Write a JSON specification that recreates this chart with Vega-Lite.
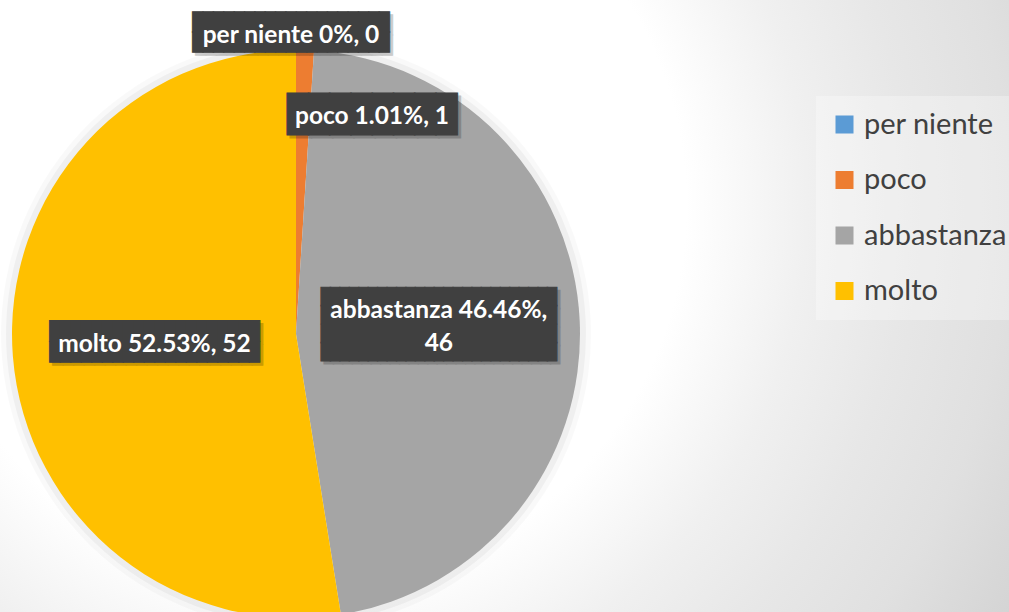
{
  "$schema": "https://vega.github.io/schema/vega-lite/v6.json",
  "width": 1009,
  "height": 612,
  "autosize": {"type": "none"},
  "padding": 0,
  "background": "#e8e8e8",
  "config": {
    "view": {
      "stroke": null,
      "fill": {
        "gradient": "radial",
        "x1": 0.3, "y1": 0.4, "r1": 0,
        "x2": 0.3, "y2": 0.4, "r2": 1,
        "stops": [
          {"offset": 0, "color": "#ffffff"},
          {"offset": 0.38, "color": "#ffffff"},
          {"offset": 0.5, "color": "#f0f0f0"},
          {"offset": 0.6, "color": "#e7e7e7"},
          {"offset": 0.7, "color": "#e0e0e0"},
          {"offset": 0.81, "color": "#d4d4d4"},
          {"offset": 0.92, "color": "#c9c9c9"},
          {"offset": 1, "color": "#c4c4c4"}
        ]
      }
    }
  },
  "data": {
    "values": [
      {"risposta": "per niente", "n": 0, "ord": 1, "etichetta": "per niente 0%, 0"},
      {"risposta": "poco", "n": 1, "ord": 2, "etichetta": "poco 1.01%, 1"},
      {"risposta": "abbastanza", "n": 46, "ord": 3, "etichetta": ["abbastanza 46.46%,", "46"]},
      {"risposta": "molto", "n": 52, "ord": 4, "etichetta": "molto 52.53%, 52"}
    ]
  },
  "encoding": {
    "theta": {"field": "n", "type": "quantitative", "stack": true},
    "order": {"field": "ord", "type": "quantitative"},
    "detail": {"field": "risposta", "type": "nominal"},
    "x": {"datum": 0, "type": "quantitative", "scale": {"domain": [-296, 713], "nice": false, "zero": false}, "axis": null},
    "y": {"datum": 0, "type": "quantitative", "scale": {"domain": [-278, 334], "nice": false, "zero": false}, "axis": null}
  },
  "layer": [
    {
      "mark": {"type": "arc", "outerRadius": 295, "fill": "#000000", "opacity": 0.025}
    },
    {
      "mark": {"type": "arc", "outerRadius": 290, "fill": "#000000", "opacity": 0.04}
    },
    {
      "mark": {"type": "arc", "outerRadius": 284},
      "encoding": {
        "color": {
          "field": "risposta",
          "type": "nominal",
          "scale": {
            "domain": ["per niente", "poco", "abbastanza", "molto"],
            "range": ["#5B9BD5", "#ED7D31", "#A5A5A5", "#FFC000"]
          },
          "legend": {
            "title": null,
            "orient": "none",
            "legendX": 816,
            "legendY": 96,
            "padding": 14,
            "fillColor": "rgba(255,255,255,0.3)",
            "symbolType": "square",
            "symbolSize": 324,
            "symbolStrokeWidth": 0,
            "symbolOpacity": 1,
            "labelFont": "Lato",
            "labelFontSize": 29,
            "labelColor": "#404040",
            "labelOffset": 5,
            "rowPadding": 25.5,
            "labelLimit": 300
          }
        }
      }
    },
    {
      "mark": {"type": "text", "font": "DejaVu Sans Mono", "fontSize": 17.22, "lineHeight": 20, "align": "center", "baseline": "middle", "radius": 303, "dx": -2, "dy": -5, "fill": "#000000", "stroke": "#000000", "strokeWidth": 1, "opacity": 0.2},
      "encoding": {"text": {"condition": {"test": "datum.risposta === 'per niente'", "value": ["███████████████████", "███████████████████"]}, "value": ""}}
    },
    {
      "mark": {"type": "text", "font": "DejaVu Sans Mono", "fontSize": 17.22, "lineHeight": 20, "align": "center", "baseline": "middle", "radius": 303, "dx": -5, "dy": -8, "fill": "#404040", "stroke": "#404040", "strokeWidth": 1},
      "encoding": {"text": {"condition": {"test": "datum.risposta === 'per niente'", "value": ["███████████████████", "███████████████████"]}, "value": ""}}
    },
    {
      "mark": {"type": "text", "font": "Lato", "fontWeight": "bold", "fontSize": 24.5, "align": "center", "baseline": "middle", "radius": 303, "dx": -5, "dy": 5, "fill": "#ffffff"},
      "encoding": {"text": {"condition": {"test": "datum.risposta === 'per niente'", "field": "etichetta"}, "value": ""}}
    },
    {
      "mark": {"type": "text", "font": "DejaVu Sans Mono", "fontSize": 35.3, "lineHeight": 41, "align": "center", "baseline": "middle", "radius": 221, "dx": 72, "dy": 5, "fill": "#000000", "stroke": "#000000", "strokeWidth": 1, "opacity": 0.2},
      "encoding": {"text": {"condition": {"test": "datum.risposta === 'poco'", "value": "████████"}, "value": ""}}
    },
    {
      "mark": {"type": "text", "font": "DejaVu Sans Mono", "fontSize": 35.3, "lineHeight": 41, "align": "center", "baseline": "middle", "radius": 221, "dx": 69, "dy": 2, "fill": "#404040", "stroke": "#404040", "strokeWidth": 1},
      "encoding": {"text": {"condition": {"test": "datum.risposta === 'poco'", "value": "████████"}, "value": ""}}
    },
    {
      "mark": {"type": "text", "font": "Lato", "fontWeight": "bold", "fontSize": 24.5, "align": "center", "baseline": "middle", "radius": 221, "dx": 69, "dy": 4, "fill": "#ffffff"},
      "encoding": {"text": {"condition": {"test": "datum.risposta === 'poco'", "field": "etichetta"}, "value": ""}}
    },
    {
      "mark": {"type": "text", "font": "DejaVu Sans Mono", "fontSize": 15.68, "lineHeight": 18.2, "align": "center", "baseline": "middle", "radius": 143, "dx": 3, "dy": -27, "fill": "#000000", "stroke": "#000000", "strokeWidth": 1, "opacity": 0.2},
      "encoding": {"text": {"condition": {"test": "datum.risposta === 'abbastanza'", "value": ["█████████████████████████", "█████████████████████████", "█████████████████████████", "█████████████████████████"]}, "value": ""}}
    },
    {
      "mark": {"type": "text", "font": "DejaVu Sans Mono", "fontSize": 15.68, "lineHeight": 18.2, "align": "center", "baseline": "middle", "radius": 143, "dy": -30, "fill": "#404040", "stroke": "#404040", "strokeWidth": 1},
      "encoding": {"text": {"condition": {"test": "datum.risposta === 'abbastanza'", "value": ["█████████████████████████", "█████████████████████████", "█████████████████████████", "█████████████████████████"]}, "value": ""}}
    },
    {
      "mark": {"type": "text", "font": "Lato", "fontWeight": "bold", "fontSize": 24.5, "lineHeight": 33, "align": "center", "baseline": "middle", "radius": 143, "dy": -16, "fill": "#ffffff"},
      "encoding": {"text": {"condition": {"test": "datum.risposta === 'abbastanza'", "field": "etichetta"}, "value": ""}}
    },
    {
      "mark": {"type": "text", "font": "DejaVu Sans Mono", "fontSize": 17.44, "lineHeight": 20.3, "align": "center", "baseline": "middle", "radius": 142, "dx": 3, "dy": -10, "fill": "#000000", "stroke": "#000000", "strokeWidth": 1, "opacity": 0.2},
      "encoding": {"text": {"condition": {"test": "datum.risposta === 'molto'", "value": ["████████████████████", "████████████████████"]}, "value": ""}}
    },
    {
      "mark": {"type": "text", "font": "DejaVu Sans Mono", "fontSize": 17.44, "lineHeight": 20.3, "align": "center", "baseline": "middle", "radius": 142, "dy": -13, "fill": "#404040", "stroke": "#404040", "strokeWidth": 1},
      "encoding": {"text": {"condition": {"test": "datum.risposta === 'molto'", "value": ["████████████████████", "████████████████████"]}, "value": ""}}
    },
    {
      "mark": {"type": "text", "font": "Lato", "fontWeight": "bold", "fontSize": 24.5, "align": "center", "baseline": "middle", "radius": 142, "dy": 0, "fill": "#ffffff"},
      "encoding": {"text": {"condition": {"test": "datum.risposta === 'molto'", "field": "etichetta"}, "value": ""}}
    }
  ]
}
